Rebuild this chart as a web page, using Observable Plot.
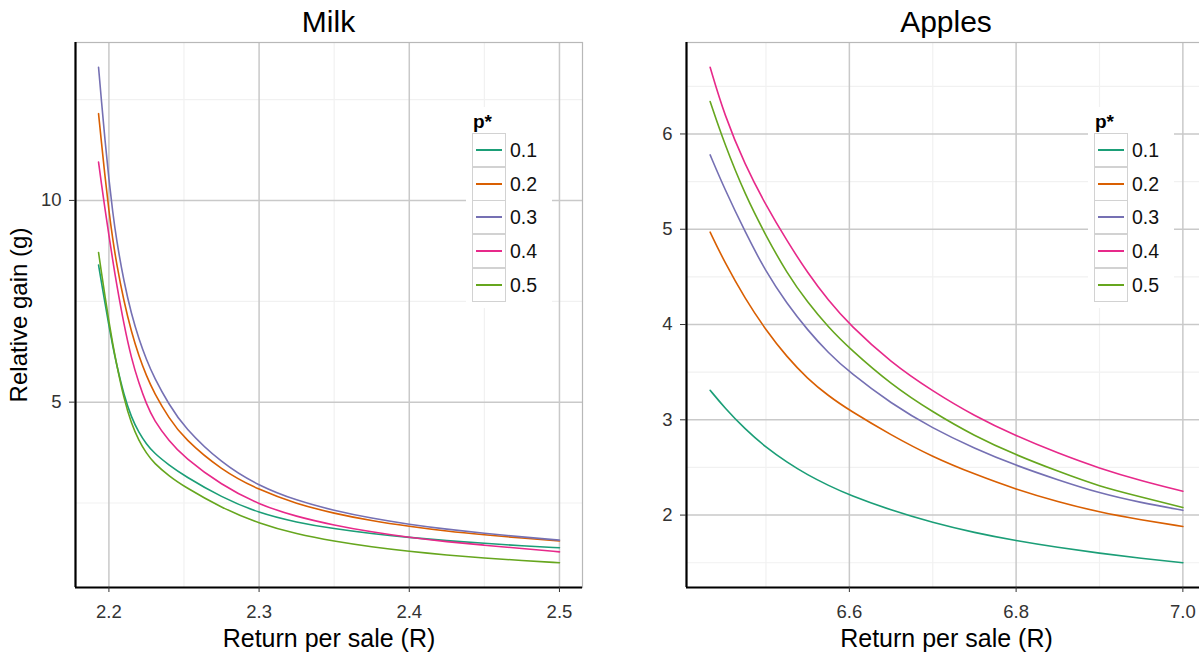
<!DOCTYPE html>
<html>
<head>
<meta charset="utf-8">
<script src="https://cdn.jsdelivr.net/npm/d3@7"></script>
<script src="https://cdn.jsdelivr.net/npm/@observablehq/plot@0.6"></script>
<style>
  html, body { margin: 0; padding: 0; background: #fff; }
  body { font-family: "Liberation Sans", Arial, Helvetica, sans-serif; }
  #wrap { position: relative; width: 1199px; height: 653px; overflow: hidden; background: #fff; }
  .ptitle { position: absolute; top: 0; height: 40px; line-height: 40px; padding-top: 2px; box-sizing: border-box;
            font-size: 30px; text-align: center; color: #000; }
  .panel { position: absolute; top: 40px; }
  .legend { position: absolute; top: 107px; width: 86px; height: 201px; background: #fff; }
  .legend .lt { position: absolute; left: 7px; top: 5px; font-size: 19px; line-height: 19px; font-weight: bold; color: #000; }
  .legend .key { position: absolute; left: 6px; width: 34px; height: 34px; box-sizing: border-box;
                 border: 1.3px solid #d2d2d2; background: #fff; }
  .legend .key span { position: absolute; left: 3px; right: 3px; top: calc(50% - 1px); height: 2px; }
  .legend .lab { position: absolute; left: 44px; height: 34px; line-height: 34px; font-size: 19.5px; color: #111; }
</style>
</head>
<body>
<div id="wrap"></div>
<script>
// ---------- data ----------
const pStar = ["0.1", "0.2", "0.3", "0.4", "0.5"];

// Milk panel: return per sale (R) and relative gain (g) per p*
const milkR = [2.1931, 2.195, 2.1975, 2.2, 2.2025, 2.205, 2.21, 2.215, 2.22, 2.225, 2.23, 2.24, 2.25, 2.275, 2.3, 2.325, 2.35, 2.375, 2.4, 2.425, 2.45, 2.475, 2.5];
const milkP01 = [8.40, 7.98, 7.43, 6.90, 6.40, 5.95, 5.17, 4.62, 4.24, 3.96, 3.74, 3.44, 3.18, 2.64, 2.25, 2.02, 1.86, 1.74, 1.645, 1.565, 1.50, 1.44, 1.39];
const milkP02 = [12.15, 11.45, 10.56, 9.74, 9.05, 8.45, 7.49, 6.74, 6.14, 5.65, 5.24, 4.60, 4.10, 3.31, 2.82, 2.48, 2.24, 2.06, 1.92, 1.80, 1.71, 1.63, 1.56];
const milkP03 = [13.30, 12.48, 11.45, 10.52, 9.72, 9.03, 7.98, 7.18, 6.56, 6.05, 5.62, 4.94, 4.38, 3.48, 2.92, 2.56, 2.31, 2.12, 1.97, 1.85, 1.75, 1.66, 1.58];
const milkP04 = [10.95, 10.42, 9.76, 9.14, 8.53, 7.95, 6.92, 6.08, 5.46, 4.95, 4.55, 4.04, 3.64, 2.94, 2.46, 2.16, 1.95, 1.78, 1.645, 1.54, 1.455, 1.37, 1.29];
const milkP05 = [8.71, 8.22, 7.60, 7.00, 6.45, 5.96, 5.08, 4.46, 4.04, 3.73, 3.49, 3.17, 2.91, 2.38, 1.99, 1.73, 1.55, 1.41, 1.30, 1.21, 1.135, 1.075, 1.02];

// Apples panel
const appleR = [6.433, 6.45, 6.475, 6.5, 6.525, 6.55, 6.575, 6.6, 6.65, 6.7, 6.75, 6.8, 6.85, 6.9, 6.95, 7.0];
const appleP01 = [3.31, 3.13, 2.90, 2.71, 2.555, 2.42, 2.31, 2.21, 2.05, 1.92, 1.815, 1.73, 1.66, 1.60, 1.545, 1.50];
const appleP02 = [4.97, 4.66, 4.27, 3.94, 3.66, 3.43, 3.25, 3.10, 2.84, 2.61, 2.43, 2.27, 2.14, 2.03, 1.95, 1.88];
const appleP03 = [5.78, 5.43, 4.97, 4.55, 4.22, 3.94, 3.70, 3.50, 3.17, 2.91, 2.70, 2.52, 2.37, 2.23, 2.13, 2.05];
const appleP04 = [6.70, 6.20, 5.67, 5.25, 4.88, 4.54, 4.25, 4.00, 3.60, 3.30, 3.04, 2.83, 2.65, 2.49, 2.36, 2.25];
const appleP05 = [6.34, 5.90, 5.36, 4.93, 4.54, 4.23, 3.97, 3.75, 3.37, 3.08, 2.83, 2.63, 2.46, 2.30, 2.19, 2.08];

// ticks
const milkXTicks = [2.2, 2.3, 2.4, 2.5];
const milkXMinor = [2.25, 2.35, 2.45];
const milkYTicks = [5, 10];
const milkYMinor = [2.5, 7.5, 12.5];
const appleXTicks = [6.6, 6.8, 7.0];
const appleXMinor = [6.5, 6.7, 6.9];
const appleYTicks = [2, 3, 4, 5, 6];
const appleYMinor = [1.5, 2.5, 3.5, 4.5, 5.5, 6.5];

const titles = ["Milk", "Apples"];
const xLabel = "Return per sale (R)";
const yLabel = "Relative gain (g)";
const legendTitle = "p*";

// ---------- build ----------
function toRows(xs, sets) {
  const rows = [];
  sets.forEach((vals, i) => vals.forEach((g, j) => rows.push({r: xs[j], g, p: pStar[i]})));
  return rows;
}
function padded(lo, hi) { const d = (hi - lo) * 0.05; return [lo - d, hi + d]; }

const wrap = document.getElementById("wrap");
const FONT = '"Liberation Sans", Arial, Helvetica, sans-serif';

function makePanel(cfg) {
  const rows = toRows(cfg.xs, cfg.sets);
  const xDom = padded(...d3.extent(rows, d => d.r));
  const yDom = padded(...d3.extent(rows, d => d.g));
  const marks = [
    Plot.gridX(cfg.xMinor, {stroke: "#f1f1f1", strokeOpacity: 1, strokeWidth: 1.2}),
    Plot.gridY(cfg.yMinor, {stroke: "#f1f1f1", strokeOpacity: 1, strokeWidth: 1.2}),
    Plot.gridX(cfg.xTicks, {stroke: "#c9c9c9", strokeOpacity: 1, strokeWidth: 1.5}),
    Plot.gridY(cfg.yTicks, {stroke: "#c9c9c9", strokeOpacity: 1, strokeWidth: 1.5}),
    Plot.frame({stroke: "#b8b8b8", strokeWidth: 1.2}),
    Plot.line(rows, {x: "r", y: "g", stroke: "p", z: "p", strokeWidth: 1.6, curve: "basis"}),
    Plot.ruleX([xDom[0]], {stroke: "#000", strokeWidth: 2.2}),
    Plot.ruleY([yDom[0]], {stroke: "#000", strokeWidth: 2.2}),
    Plot.axisX(cfg.xTicks, {tickSize: 5, tickPadding: 12, fontSize: 18.5, tickFormat: d3.format(".1f"), label: null, stroke: "#333", fill: "#333"}),
    Plot.axisY(cfg.yTicks, {tickSize: 6, tickPadding: 8, fontSize: 18.5, tickFormat: d3.format("d"), label: null, stroke: "#333", fill: "#333"}),
    Plot.text([xLabel], {text: d => d, frameAnchor: "bottom", lineAnchor: "middle", textAnchor: "middle", dy: 51, fontSize: 25, fill: "#000"})
  ];
  if (cfg.showY) marks.push(Plot.text([yLabel], {text: d => d, frameAnchor: "left", textAnchor: "middle", lineAnchor: "middle", dx: -56, rotate: -90, fontSize: 24, fill: "#000"}));
  const plot = Plot.plot({
    width: cfg.width, height: 613,
    marginTop: 2, marginBottom: 66, marginLeft: cfg.marginLeft, marginRight: cfg.marginRight,
    x: {domain: xDom}, y: {domain: yDom},
    color: {type: "ordinal", domain: pStar, scheme: "dark2"},
    style: {fontFamily: FONT, background: "transparent", overflow: "visible", color: "#333"},
    marks
  });
  plot.classList.add("panel");
  plot.style.left = cfg.left + "px";
  wrap.appendChild(plot);

  // title above the svg
  const t = document.createElement("div");
  t.className = "ptitle";
  t.textContent = cfg.title;
  t.style.left = (cfg.left + cfg.marginLeft) + "px";
  t.style.width = (cfg.width - cfg.marginLeft - cfg.marginRight) + "px";
  wrap.appendChild(t);

  // legend (inside the panel, top right)
  const color = plot.scale("color");
  const lg = document.createElement("div");
  lg.className = "legend";
  lg.style.left = cfg.legendLeft + "px";
  const lt = document.createElement("div");
  lt.className = "lt"; lt.textContent = legendTitle; lg.appendChild(lt);
  pStar.forEach((p, i) => {
    const k = document.createElement("div");
    k.className = "key"; k.style.top = (26 + i * 33.7) + "px";
    const s = document.createElement("span"); s.style.background = color.apply(p);
    k.appendChild(s); lg.appendChild(k);
    const l = document.createElement("div");
    l.className = "lab"; l.style.top = (26 + i * 33.7) + "px"; l.textContent = p;
    lg.appendChild(l);
  });
  wrap.appendChild(lg);
}

makePanel({
  title: titles[0], xs: milkR, sets: [milkP01, milkP02, milkP03, milkP04, milkP05],
  xTicks: milkXTicks, xMinor: milkXMinor, yTicks: milkYTicks, yMinor: milkYMinor,
  left: 0, width: 600, marginLeft: 75, marginRight: 18, legendLeft: 466, showY: true
});
makePanel({
  title: titles[1], xs: appleR, sets: [appleP01, appleP02, appleP03, appleP04, appleP05],
  xTicks: appleXTicks, xMinor: appleXMinor, yTicks: appleYTicks, yMinor: appleYMinor,
  left: 600, width: 607, marginLeft: 86, marginRight: 1, legendLeft: 1088, showY: false
});
</script>
</body>
</html>
